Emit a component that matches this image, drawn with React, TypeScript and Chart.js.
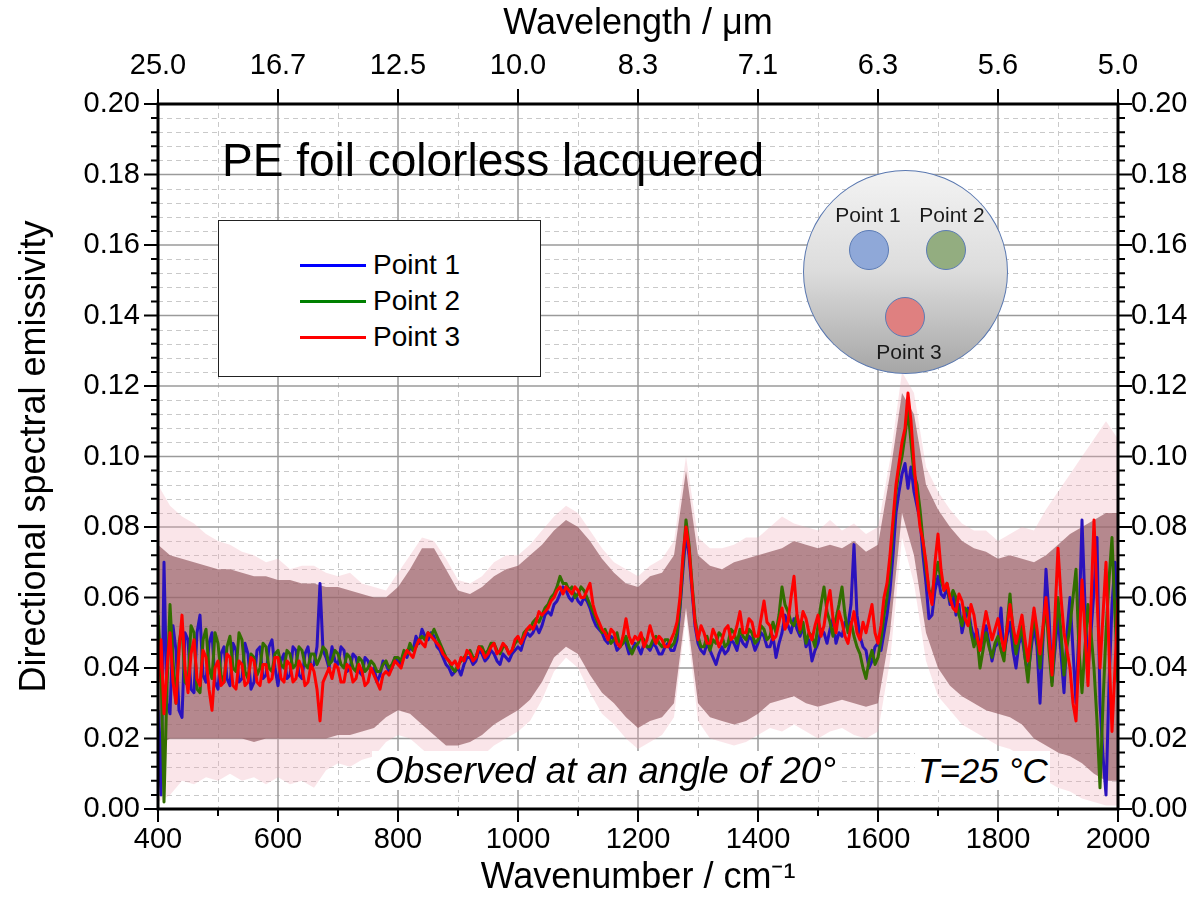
import React, { useEffect, useRef } from "react";
import { Chart, registerables } from "chart.js";

Chart.register(...registerables);

const FONT = "'Liberation Sans', Arial, Helvetica, sans-serif";

// Sampling grids (cm^-1)
const WAVENUMBERS: number[] = Array.from({ length: 321 }, (_, i) => 400 + i * 5);
const BAND_WAVENUMBERS: number[] = Array.from({ length: 81 }, (_, i) => 400 + i * 20);

const SERIES_NAMES = ["Point 1", "Point 2", "Point 3"];
const X_TICKS = [400, 600, 800, 1000, 1200, 1400, 1600, 1800, 2000];
const TOP_TICK_LABELS = ["25.0", "16.7", "12.5", "10.0", "8.3", "7.1", "6.3", "5.6", "5.0"];
const Y_TICK_LABELS = ["0.00", "0.02", "0.04", "0.06", "0.08", "0.10", "0.12", "0.14", "0.16", "0.18", "0.20"];

// each row = 100 cm^-1 (20 samples, 5 cm^-1 apart)
const POINT1 = [
  0.028, 0.004, 0.070, 0.030, 0.027, 0.052, 0.045, 0.028, 0.026, 0.050, 0.048, 0.034, 0.033, 0.050, 0.055, 0.038, 0.036, 0.047, 0.050, 0.036,
  0.034, 0.044, 0.046, 0.037, 0.035, 0.047, 0.045, 0.036, 0.037, 0.047, 0.044, 0.034, 0.036, 0.045, 0.046, 0.037, 0.038, 0.046, 0.048, 0.040,
  0.035, 0.042, 0.044, 0.037, 0.038, 0.046, 0.045, 0.038, 0.037, 0.044, 0.046, 0.040, 0.041, 0.046, 0.064, 0.045, 0.043, 0.040, 0.046, 0.042,
  0.041, 0.046, 0.045, 0.039, 0.040, 0.044, 0.043, 0.039, 0.038, 0.043, 0.042, 0.039, 0.040, 0.036, 0.038, 0.042, 0.041, 0.039, 0.040, 0.043,
  0.042, 0.041, 0.044, 0.043, 0.046, 0.045, 0.049, 0.047, 0.051, 0.049, 0.048, 0.050, 0.049, 0.046, 0.045, 0.043, 0.041, 0.040, 0.038, 0.039,
  0.040, 0.038, 0.041, 0.043, 0.043, 0.041, 0.042, 0.045, 0.044, 0.042, 0.043, 0.045, 0.044, 0.042, 0.041, 0.044, 0.043, 0.042, 0.044, 0.045,
  0.046, 0.045, 0.048, 0.050, 0.049, 0.050, 0.052, 0.050, 0.052, 0.055, 0.056, 0.055, 0.058, 0.059, 0.061, 0.063, 0.062, 0.060, 0.059, 0.061,
  0.059, 0.058, 0.060, 0.059, 0.057, 0.054, 0.052, 0.051, 0.050, 0.048, 0.047, 0.049, 0.048, 0.045, 0.046, 0.048, 0.047, 0.044, 0.045, 0.047,
  0.046, 0.044, 0.047, 0.046, 0.045, 0.047, 0.046, 0.044, 0.044, 0.046, 0.047, 0.045, 0.045, 0.048, 0.057, 0.068, 0.078, 0.072, 0.062, 0.052,
  0.047, 0.045, 0.044, 0.047, 0.045, 0.043, 0.041, 0.044, 0.046, 0.044, 0.045, 0.048, 0.047, 0.045, 0.049, 0.047, 0.046, 0.049, 0.048, 0.045,
  0.047, 0.050, 0.049, 0.046, 0.046, 0.049, 0.043, 0.047, 0.050, 0.055, 0.052, 0.050, 0.054, 0.051, 0.049, 0.052, 0.046, 0.048, 0.042, 0.045,
  0.047, 0.051, 0.050, 0.047, 0.051, 0.054, 0.047, 0.050, 0.049, 0.053, 0.052, 0.058, 0.075, 0.055, 0.049, 0.046, 0.045, 0.040, 0.042, 0.046,
  0.047, 0.045, 0.050, 0.055, 0.062, 0.072, 0.084, 0.090, 0.095, 0.098, 0.091, 0.097, 0.090, 0.086, 0.082, 0.072, 0.064, 0.054, 0.055, 0.062,
  0.066, 0.061, 0.060, 0.063, 0.058, 0.061, 0.055, 0.058, 0.050, 0.054, 0.057, 0.052, 0.048, 0.051, 0.045, 0.049, 0.052, 0.047, 0.042, 0.046,
  0.047, 0.057, 0.044, 0.049, 0.053, 0.045, 0.040, 0.047, 0.049, 0.043, 0.038, 0.045, 0.052, 0.046, 0.030, 0.048, 0.068, 0.055, 0.036, 0.045,
  0.055, 0.044, 0.033, 0.050, 0.060, 0.045, 0.030, 0.052, 0.082, 0.058, 0.040, 0.050, 0.062, 0.077, 0.030, 0.015, 0.004, 0.035, 0.058, 0.070,
  0.045,
];

const POINT2 = [
  0.055, 0.040, 0.002, 0.035, 0.058, 0.042, 0.030, 0.047, 0.052, 0.036, 0.035, 0.052, 0.050, 0.034, 0.033, 0.048, 0.051, 0.040, 0.037, 0.050,
  0.047, 0.038, 0.036, 0.046, 0.049, 0.040, 0.039, 0.050, 0.048, 0.039, 0.037, 0.044, 0.043, 0.038, 0.040, 0.047, 0.046, 0.040, 0.039, 0.044,
  0.045, 0.041, 0.040, 0.045, 0.044, 0.040, 0.041, 0.046, 0.045, 0.041, 0.040, 0.044, 0.044, 0.041, 0.043, 0.046, 0.045, 0.041, 0.042, 0.045,
  0.044, 0.041, 0.040, 0.044, 0.043, 0.040, 0.039, 0.043, 0.042, 0.039, 0.040, 0.042, 0.041, 0.039, 0.039, 0.041, 0.042, 0.040, 0.041, 0.043,
  0.043, 0.042, 0.045, 0.044, 0.047, 0.045, 0.046, 0.048, 0.049, 0.048, 0.050, 0.049, 0.051, 0.049, 0.047, 0.045, 0.043, 0.042, 0.040, 0.039,
  0.041, 0.042, 0.043, 0.044, 0.045, 0.043, 0.043, 0.046, 0.046, 0.044, 0.045, 0.047, 0.047, 0.045, 0.044, 0.046, 0.046, 0.044, 0.045, 0.047,
  0.048, 0.047, 0.050, 0.051, 0.051, 0.053, 0.054, 0.053, 0.055, 0.057, 0.058, 0.060, 0.061, 0.063, 0.066, 0.064, 0.064, 0.062, 0.063, 0.060,
  0.061, 0.063, 0.062, 0.060, 0.058, 0.056, 0.054, 0.052, 0.050, 0.051, 0.049, 0.047, 0.048, 0.050, 0.046, 0.047, 0.049, 0.046, 0.044, 0.046,
  0.047, 0.049, 0.048, 0.046, 0.046, 0.048, 0.049, 0.047, 0.046, 0.048, 0.048, 0.046, 0.047, 0.050, 0.058, 0.070, 0.082, 0.075, 0.064, 0.054,
  0.049, 0.046, 0.046, 0.049, 0.045, 0.048, 0.047, 0.050, 0.049, 0.046, 0.047, 0.051, 0.050, 0.047, 0.051, 0.049, 0.048, 0.051, 0.050, 0.047,
  0.048, 0.052, 0.051, 0.048, 0.049, 0.053, 0.050, 0.055, 0.063, 0.058, 0.056, 0.053, 0.052, 0.055, 0.050, 0.053, 0.047, 0.050, 0.049, 0.046,
  0.052, 0.058, 0.063, 0.056, 0.053, 0.049, 0.054, 0.058, 0.063, 0.055, 0.050, 0.053, 0.049, 0.046, 0.044, 0.040, 0.037, 0.042, 0.045, 0.041,
  0.043, 0.048, 0.055, 0.060, 0.068, 0.080, 0.090, 0.096, 0.100, 0.106, 0.113, 0.104, 0.095, 0.092, 0.085, 0.076, 0.068, 0.062, 0.061, 0.066,
  0.070, 0.065, 0.062, 0.064, 0.059, 0.062, 0.060, 0.055, 0.052, 0.057, 0.056, 0.050, 0.046, 0.049, 0.040, 0.045, 0.050, 0.046, 0.043, 0.047,
  0.049, 0.045, 0.042, 0.052, 0.061, 0.050, 0.044, 0.048, 0.052, 0.043, 0.036, 0.047, 0.055, 0.049, 0.040, 0.050, 0.058, 0.045, 0.035, 0.048,
  0.060, 0.050, 0.038, 0.046, 0.052, 0.060, 0.068, 0.045, 0.033, 0.046, 0.058, 0.050, 0.040, 0.025, 0.006, 0.030, 0.050, 0.065, 0.077, 0.055,
  0.036,
];

const POINT3 = [
  0.036, 0.048, 0.027, 0.040, 0.050, 0.036, 0.030, 0.045, 0.055, 0.040, 0.033, 0.044, 0.048, 0.037, 0.035, 0.045, 0.043, 0.034, 0.028, 0.040,
  0.042, 0.035, 0.036, 0.044, 0.043, 0.035, 0.034, 0.042, 0.041, 0.035, 0.036, 0.043, 0.042, 0.036, 0.035, 0.041, 0.041, 0.036, 0.037, 0.043,
  0.043, 0.037, 0.036, 0.042, 0.041, 0.036, 0.037, 0.042, 0.040, 0.035, 0.036, 0.041, 0.039, 0.034, 0.025, 0.036, 0.038, 0.040, 0.037, 0.041,
  0.040, 0.036, 0.036, 0.041, 0.040, 0.036, 0.037, 0.041, 0.039, 0.035, 0.036, 0.040, 0.038, 0.036, 0.034, 0.038, 0.039, 0.038, 0.040, 0.042,
  0.041, 0.040, 0.043, 0.045, 0.044, 0.043, 0.046, 0.048, 0.047, 0.046, 0.050, 0.049, 0.048, 0.047, 0.046, 0.044, 0.043, 0.042, 0.041, 0.042,
  0.040, 0.043, 0.042, 0.045, 0.044, 0.042, 0.043, 0.046, 0.045, 0.043, 0.044, 0.046, 0.047, 0.044, 0.045, 0.047, 0.046, 0.044, 0.045, 0.048,
  0.049, 0.047, 0.049, 0.051, 0.052, 0.051, 0.053, 0.056, 0.055, 0.056, 0.057, 0.059, 0.060, 0.062, 0.063, 0.061, 0.063, 0.062, 0.061, 0.063,
  0.062, 0.060, 0.060, 0.062, 0.064, 0.058, 0.055, 0.053, 0.051, 0.050, 0.048, 0.051, 0.050, 0.047, 0.046, 0.049, 0.054, 0.049, 0.047, 0.049,
  0.048, 0.050, 0.046, 0.048, 0.052, 0.049, 0.047, 0.049, 0.048, 0.046, 0.046, 0.048, 0.050, 0.053, 0.060, 0.072, 0.080, 0.074, 0.063, 0.053,
  0.048, 0.052, 0.050, 0.047, 0.047, 0.051, 0.049, 0.046, 0.048, 0.051, 0.052, 0.048, 0.049, 0.052, 0.056, 0.050, 0.050, 0.054, 0.053, 0.049,
  0.049, 0.054, 0.059, 0.053, 0.052, 0.048, 0.049, 0.053, 0.057, 0.051, 0.053, 0.060, 0.066, 0.055, 0.051, 0.056, 0.054, 0.050, 0.048, 0.052,
  0.055, 0.049, 0.052, 0.058, 0.062, 0.054, 0.050, 0.056, 0.053, 0.049, 0.047, 0.052, 0.056, 0.050, 0.048, 0.053, 0.050, 0.054, 0.058, 0.050,
  0.047, 0.052, 0.060, 0.064, 0.072, 0.082, 0.092, 0.098, 0.104, 0.108, 0.118, 0.110, 0.098, 0.088, 0.080, 0.076, 0.070, 0.062, 0.058, 0.070,
  0.078, 0.068, 0.062, 0.064, 0.060, 0.057, 0.056, 0.061, 0.059, 0.054, 0.052, 0.058, 0.055, 0.049, 0.045, 0.051, 0.056, 0.052, 0.048, 0.051,
  0.054, 0.049, 0.045, 0.051, 0.058, 0.052, 0.047, 0.051, 0.055, 0.048, 0.042, 0.050, 0.057, 0.051, 0.044, 0.052, 0.060, 0.049, 0.038, 0.055,
  0.074, 0.060, 0.050, 0.045, 0.040, 0.030, 0.025, 0.045, 0.065, 0.050, 0.035, 0.058, 0.082, 0.060, 0.040, 0.055, 0.070, 0.045, 0.022, 0.040,
  0.060,
];

// Uncertainty band (20 cm^-1 apart): dense core and faint outer fringe
const BAND_CORE_UPPER = [
  0.075, 0.072, 0.071, 0.070, 0.069, 0.068, 0.068, 0.067, 0.066, 0.066,
  0.065, 0.065, 0.064, 0.064, 0.063, 0.063, 0.062, 0.061, 0.060, 0.060,
  0.063, 0.068, 0.074, 0.074, 0.068, 0.062, 0.061, 0.063, 0.066, 0.068,
  0.069, 0.072, 0.075, 0.079, 0.082, 0.080, 0.076, 0.071, 0.067, 0.064,
  0.063, 0.066, 0.067, 0.072, 0.096, 0.072, 0.069, 0.068, 0.070, 0.071,
  0.072, 0.073, 0.074, 0.076, 0.075, 0.074, 0.075, 0.074, 0.076, 0.073,
  0.075, 0.095, 0.118, 0.112, 0.092, 0.085, 0.080, 0.076, 0.074, 0.073,
  0.071, 0.072, 0.071, 0.070, 0.072, 0.075, 0.078, 0.080, 0.082, 0.084,
  0.084,
];
const BAND_CORE_LOWER = [
  0.018, 0.020, 0.020, 0.020, 0.020, 0.020, 0.020, 0.020, 0.019, 0.020,
  0.020, 0.020, 0.020, 0.020, 0.020, 0.021, 0.021, 0.022, 0.023, 0.026,
  0.028, 0.027, 0.024, 0.021, 0.018, 0.018, 0.019, 0.021, 0.024, 0.026,
  0.028, 0.031, 0.036, 0.043, 0.046, 0.044, 0.038, 0.033, 0.030, 0.026,
  0.023, 0.025, 0.026, 0.030, 0.057, 0.030, 0.026, 0.025, 0.024, 0.025,
  0.027, 0.030, 0.031, 0.032, 0.030, 0.029, 0.030, 0.031, 0.030, 0.029,
  0.030, 0.050, 0.084, 0.072, 0.050, 0.040, 0.035, 0.032, 0.030, 0.028,
  0.027, 0.026, 0.024, 0.020, 0.018, 0.016, 0.015, 0.013, 0.010, 0.008,
  0.008,
];
const BAND_FRINGE_UPPER = [
  0.092, 0.086, 0.083, 0.081, 0.078, 0.076, 0.075, 0.073, 0.072, 0.070,
  0.071, 0.068, 0.069, 0.069, 0.067, 0.066, 0.067, 0.064, 0.063, 0.062,
  0.067, 0.072, 0.077, 0.076, 0.071, 0.065, 0.064, 0.066, 0.070, 0.072,
  0.072, 0.075, 0.079, 0.083, 0.086, 0.084, 0.079, 0.074, 0.070, 0.068,
  0.066, 0.069, 0.071, 0.076, 0.100, 0.077, 0.074, 0.074, 0.075, 0.077,
  0.077, 0.080, 0.083, 0.081, 0.080, 0.079, 0.082, 0.079, 0.081, 0.078,
  0.080, 0.099, 0.124, 0.118, 0.097, 0.090, 0.085, 0.081, 0.079, 0.079,
  0.076, 0.078, 0.080, 0.079, 0.085, 0.090, 0.095, 0.100, 0.105, 0.110,
  0.105,
];
const BAND_FRINGE_LOWER = [
  0.002, 0.004, 0.008, 0.007, 0.009, 0.008, 0.010, 0.008, 0.009, 0.007,
  0.009, 0.007, 0.008, 0.006, 0.011, 0.013, 0.012, 0.014, 0.015, 0.019,
  0.021, 0.020, 0.017, 0.014, 0.012, 0.011, 0.013, 0.015, 0.018, 0.020,
  0.022, 0.025, 0.031, 0.039, 0.043, 0.040, 0.033, 0.027, 0.024, 0.020,
  0.017, 0.019, 0.021, 0.026, 0.055, 0.025, 0.020, 0.019, 0.018, 0.019,
  0.021, 0.023, 0.022, 0.024, 0.022, 0.020, 0.022, 0.023, 0.021, 0.020,
  0.022, 0.042, 0.077, 0.064, 0.042, 0.032, 0.028, 0.024, 0.022, 0.020,
  0.018, 0.017, 0.015, 0.011, 0.008, 0.006, 0.005, 0.003, 0.002, 0.001,
  0.001,
];

const LINE_COLORS = ["#2a12bd", "#326e00", "#ff0000"];
const LEGEND_COLORS = ["#0000ff", "#008000", "#ff0000"];

const pts = (xs: number[], ys: number[]) => xs.map((x, i) => ({ x, y: ys[i] }));

const framePlugin = {
  id: "originFrame",
  beforeDatasetsDraw(chart: any) {
    const { ctx, chartArea, scales } = chart;
    const { left, right, top, bottom } = chartArea;
    const xs = scales.x;
    const ys = scales.y;
    ctx.save();
    ctx.strokeStyle = "#c9c9c9";
    ctx.lineWidth = 1;
    ctx.setLineDash([5, 4]);
    for (let w = 500; w < 2000; w += 200) {
      const px = Math.round(xs.getPixelForValue(w)) + 0.5;
      ctx.beginPath();
      ctx.moveTo(px, top);
      ctx.lineTo(px, bottom);
      ctx.stroke();
    }
    for (let i = 1; i < 50; i++) {
      if (i % 5 === 0) continue;
      const py = Math.round(ys.getPixelForValue(i * 0.004)) + 0.5;
      ctx.beginPath();
      ctx.moveTo(left, py);
      ctx.lineTo(right, py);
      ctx.stroke();
    }
    ctx.setLineDash([]);
    ctx.strokeStyle = "#9a9a9a";
    ctx.lineWidth = 1.5;
    for (const w of X_TICKS) {
      const px = xs.getPixelForValue(w);
      ctx.beginPath();
      ctx.moveTo(px, top);
      ctx.lineTo(px, bottom);
      ctx.stroke();
    }
    for (let i = 0; i <= 10; i++) {
      const py = ys.getPixelForValue(i * 0.02);
      ctx.beginPath();
      ctx.moveTo(left, py);
      ctx.lineTo(right, py);
      ctx.stroke();
    }
    ctx.restore();
  },
  afterDatasetsDraw(chart: any) {
    const { ctx, chartArea, scales } = chart;
    const { left, right, top, bottom } = chartArea;
    const xs = scales.x;
    const ys = scales.y;
    ctx.save();
    ctx.strokeStyle = "#000";
    ctx.lineWidth = 2;
    for (let i = 0; i <= 50; i++) {
      const py = ys.getPixelForValue(i * 0.004);
      const len = i % 5 === 0 ? 14 : 7;
      ctx.beginPath();
      ctx.moveTo(left - len, py);
      ctx.lineTo(left, py);
      ctx.moveTo(right, py);
      ctx.lineTo(right + len, py);
      ctx.stroke();
    }
    for (let w = 400; w <= 2000; w += 100) {
      const px = xs.getPixelForValue(w);
      const len = w % 200 === 0 ? 13 : 7;
      ctx.beginPath();
      ctx.moveTo(px, bottom);
      ctx.lineTo(px, bottom + len);
      ctx.stroke();
    }
    for (const w of X_TICKS) {
      const px = xs.getPixelForValue(w);
      ctx.beginPath();
      ctx.moveTo(px, top);
      ctx.lineTo(px, top - 15);
      ctx.stroke();
    }
    ctx.lineWidth = 3;
    ctx.strokeRect(left, top, right - left, bottom - top);
    ctx.restore();
  },
};

export default function App() {
  const canvasRef = useRef<HTMLCanvasElement | null>(null);

  useEffect(() => {
    if (!canvasRef.current) return;
    const tickFont = { family: FONT, size: 29 };
    const titleFont = { family: FONT, size: 36 };
    const bandBase = {
      borderColor: "rgba(0,0,0,0)",
      borderWidth: 1,
      pointRadius: 0,
      tension: 0,
    };
    const lineBase = {
      borderWidth: 3,
      pointRadius: 0,
      fill: false,
      tension: 0,
      borderJoinStyle: "round",
    };
    const chart = new Chart(canvasRef.current, {
      type: "line",
      data: {
        datasets: [
          {
            ...bandBase,
            label: "fringe upper",
            data: pts(BAND_WAVENUMBERS, BAND_FRINGE_UPPER),
            fill: "+1",
            backgroundColor: "rgba(240,170,182,0.3)",
            order: 10,
          },
          {
            ...bandBase,
            label: "fringe lower",
            data: pts(BAND_WAVENUMBERS, BAND_FRINGE_LOWER),
            fill: false,
            order: 10,
          },
          {
            ...bandBase,
            label: "core upper",
            data: pts(BAND_WAVENUMBERS, BAND_CORE_UPPER),
            fill: "+1",
            backgroundColor: "rgba(145,88,94,0.65)",
            order: 9,
          },
          {
            ...bandBase,
            label: "core lower",
            data: pts(BAND_WAVENUMBERS, BAND_CORE_LOWER),
            fill: false,
            order: 9,
          },
          { ...lineBase, label: SERIES_NAMES[0], data: pts(WAVENUMBERS, POINT1), borderColor: LINE_COLORS[0], order: 3 },
          { ...lineBase, label: SERIES_NAMES[1], data: pts(WAVENUMBERS, POINT2), borderColor: LINE_COLORS[1], order: 2 },
          { ...lineBase, label: SERIES_NAMES[2], data: pts(WAVENUMBERS, POINT3), borderColor: LINE_COLORS[2], order: 1 },
        ],
      },
      options: {
        animation: false,
        responsive: false,
        maintainAspectRatio: false,
        devicePixelRatio: 1,
        events: [],
        layout: { padding: 0 },
        plugins: {
          legend: { display: false },
          tooltip: { enabled: false },
          title: { display: false },
        },
        scales: {
          x: {
            type: "linear",
            position: "bottom",
            min: 400,
            max: 2000,
            ticks: {
              stepSize: 200,
              font: tickFont,
              color: "#000",
              padding: 14,
              maxRotation: 0,
              autoSkip: false,
              callback: (v: any) => String(v),
            },
            grid: { display: false, drawTicks: false },
            border: { display: false },
            title: {
              display: true,
              text: "Wavenumber / cm⁻¹",
              font: titleFont,
              color: "#000",
              padding: { top: 0, bottom: 11 },
            },
            afterFit: (s: any) => {
              s.height = 102;
            },
          },
          x2: {
            type: "linear",
            position: "top",
            min: 400,
            max: 2000,
            ticks: {
              stepSize: 200,
              font: tickFont,
              color: "#000",
              padding: 21,
              maxRotation: 0,
              autoSkip: false,
              callback: (v: any) => {
                const idx = X_TICKS.indexOf(Math.round(Number(v)));
                return idx >= 0 ? TOP_TICK_LABELS[idx] : "";
              },
            },
            grid: { display: false, drawTicks: false },
            border: { display: false },
            title: {
              display: true,
              text: "Wavelength / μm",
              font: titleFont,
              color: "#000",
              padding: { top: 2, bottom: 0 },
            },
            afterFit: (s: any) => {
              s.height = 104;
            },
          },
          y: {
            type: "linear",
            position: "left",
            min: 0,
            max: 0.2,
            ticks: {
              stepSize: 0.02,
              font: tickFont,
              color: "#000",
              padding: 18,
              callback: (v: any) => Y_TICK_LABELS[Math.round(Number(v) / 0.02)] ?? "",
            },
            grid: { display: false, drawTicks: false },
            border: { display: false },
            title: {
              display: true,
              text: "Directional spectral emissivity",
              font: titleFont,
              color: "#000",
              padding: { top: 13, bottom: 0 },
            },
            afterFit: (s: any) => {
              s.width = 158;
            },
          },
          y2: {
            type: "linear",
            position: "right",
            min: 0,
            max: 0.2,
            ticks: {
              stepSize: 0.02,
              font: tickFont,
              color: "#000",
              padding: 13,
              callback: (v: any) => Y_TICK_LABELS[Math.round(Number(v) / 0.02)] ?? "",
            },
            grid: { display: false, drawTicks: false },
            border: { display: false },
            afterFit: (s: any) => {
              s.width = 85;
            },
          },
        },
      } as any,
      plugins: [framePlugin],
    });
    return () => chart.destroy();
  }, []);

  const smallCircle = (cx: number, cy: number, fill: string, stroke: string) => (
    <div
      style={{
        position: "absolute",
        left: cx - 20,
        top: cy - 20,
        width: 40,
        height: 40,
        borderRadius: "50%",
        background: fill,
        border: `1px solid ${stroke}`,
        boxSizing: "border-box",
      }}
    />
  );

  const insetLabel = (text: string, cx: number, cy: number) => (
    <div
      style={{
        position: "absolute",
        left: cx - 50,
        top: cy - 13,
        width: 100,
        height: 26,
        lineHeight: "26px",
        textAlign: "center",
        fontFamily: FONT,
        fontSize: 21,
        color: "#1a1a1a",
        whiteSpace: "nowrap",
      }}
    >
      {text}
    </div>
  );

  const noteStyle = (left: number, width: number, size: number): React.CSSProperties => ({
    position: "absolute",
    left,
    top: 751,
    width,
    height: 39,
    background: "#fff",
    fontFamily: FONT,
    fontStyle: "italic",
    fontSize: size,
    lineHeight: "39px",
    color: "#000",
    paddingLeft: 3,
    boxSizing: "border-box",
    whiteSpace: "nowrap",
  });

  return (
    <div
      style={{
        position: "absolute",
        left: 0,
        top: 0,
        width: 1203,
        height: 911,
        background: "#fff",
        overflow: "hidden",
      }}
    >
      <canvas ref={canvasRef} width={1203} height={911} style={{ display: "block" }} />

      <div
        style={{
          position: "absolute",
          left: 222,
          top: 133,
          fontFamily: FONT,
          fontSize: 46,
          lineHeight: "54px",
          color: "#000",
          whiteSpace: "nowrap",
        }}
      >
        PE foil colorless lacquered
      </div>

      <div
        style={{
          position: "absolute",
          left: 218,
          top: 220,
          width: 323,
          height: 157,
          border: "1.5px solid #222",
          background: "#fff",
          boxSizing: "border-box",
        }}
      >
        {SERIES_NAMES.map((name, i) => (
          <React.Fragment key={name}>
            <div
              style={{
                position: "absolute",
                left: 81,
                top: 43 + i * 36,
                width: 66,
                height: 3,
                background: LEGEND_COLORS[i],
              }}
            />
            <div
              style={{
                position: "absolute",
                left: 154,
                top: 27 + i * 36,
                height: 34,
                lineHeight: "34px",
                fontFamily: FONT,
                fontSize: 28,
                color: "#000",
                whiteSpace: "nowrap",
              }}
            >
              {name}
            </div>
          </React.Fragment>
        ))}
      </div>

      <div
        style={{
          position: "absolute",
          left: 803,
          top: 170,
          width: 205,
          height: 204,
          borderRadius: "50%",
          background: "linear-gradient(to bottom, #f3f3f3 0%, #dcdcdc 50%, #a6a6a6 100%)",
          border: "1px solid #5a78b0",
          boxSizing: "border-box",
        }}
      />
      {smallCircle(869, 250, "#8fa8d8", "#5b7bb5")}
      {smallCircle(946, 250, "#93ad80", "#5b7bb5")}
      {smallCircle(905, 317, "#df8080", "#5b7bb5")}
      {insetLabel("Point 1", 868, 215)}
      {insetLabel("Point 2", 952, 215)}
      {insetLabel("Point 3", 909, 352)}

      <div style={noteStyle(372, 470, 37)}>Observed at an angle of 20°</div>
      <div style={noteStyle(915, 135, 35)}>T=25 °C</div>
    </div>
  );
}
